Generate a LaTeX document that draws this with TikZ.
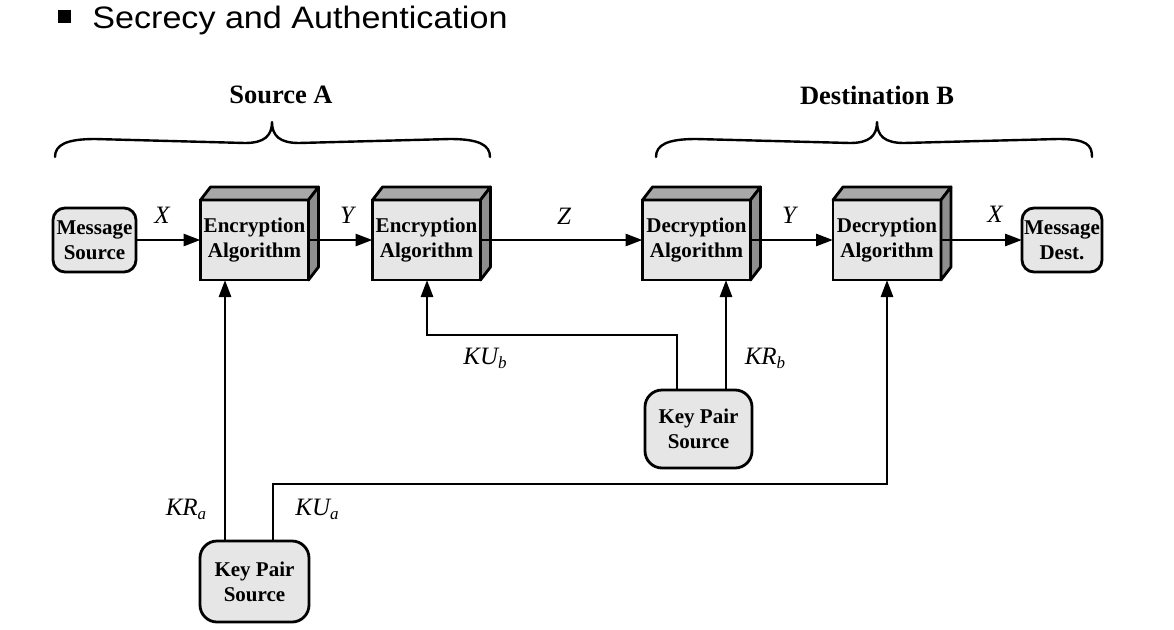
\documentclass[tikz,border=0pt]{standalone}
\usepackage{fontspec}
\setmainfont{Liberation Serif}
\newfontfamily\titlefont[FakeStretch=1.1]{Liberation Sans}
\usetikzlibrary{arrows.meta,calc}
\definecolor{facegray}{HTML}{E6E6E6}
\definecolor{topgray}{HTML}{A8A8A8}
\definecolor{sidegray}{HTML}{8E8E8E}
\newcommand\sub[1]{\raisebox{-0.35ex}{\fontsize{17}{17}\selectfont #1}}
\begin{document}
\begin{tikzpicture}[x=1pt,y=-1pt,line width=2.8pt,
  arr/.style={-{Triangle[length=17pt,width=12pt]}},
  front/.style={draw,fill=facegray,minimum width=108pt,minimum height=80pt,
    outer sep=0pt,inner sep=0pt,align=center,
    font=\fontsize{21}{25}\selectfont\bfseries},
  rbox/.style={draw,fill=facegray,rounded corners=12pt,outer sep=0pt,inner sep=0pt,
    align=center,font=\fontsize{21}{25}\selectfont\bfseries},
  kbox/.style={rbox,rounded corners=17pt},
  lbl/.style={font=\fontsize{25}{25}\selectfont\itshape,inner sep=0pt},
  hdr/.style={font=\fontsize{26.5}{26.5}\selectfont\bfseries,inner sep=0pt},
  brace/.style={line width=2.4pt,line cap=round,line join=round},
  face/.style={line join=round}]
\useasboundingbox[fill=white] (0,0) rectangle (1174,629);

% title
\fill (58,10) rectangle (71,23);
\node[anchor=base west,inner sep=0pt,font=\titlefont\fontsize{31}{31}\selectfont] (title) at (91,28) {Secrecy and Authentication};

% headers and braces
\node[hdr] (srcA) at (281,95) {Source A};
\node[hdr] (dstB) at (877,95) {Destination B};
\draw[brace] (55,157) .. controls (55,145) and (66,139) .. (95,139) -- (245,143)
  .. controls (264,143) and (272,136) .. (272,122)
  .. controls (272,136) and (280,143) .. (299,143) -- (450,139)
  .. controls (479,139) and (490,145) .. (490,157);
\draw[brace] (656,157) .. controls (656,145) and (667,139) .. (696,139) -- (850,143)
  .. controls (869,143) and (877,136) .. (877,122)
  .. controls (877,136) and (885,143) .. (904,143) -- (1058,139)
  .. controls (1087,139) and (1092,145) .. (1092,157);

% boxes
\node[rbox,minimum width=83pt,minimum height=64pt] (msrc) at (94.5,240) {Message\\Source};
\node[rbox,minimum width=80pt,minimum height=64pt] (mdst) at (1062,240) {Message\\Dest.};
\node[front] (enc1) at (254.5,240) {Encryption\\Algorithm};
\node[front] (enc2) at (426.5,240) {Encryption\\Algorithm};
\node[front] (dec1) at (696.5,240) {Decryption\\Algorithm};
\node[front] (dec2) at (887,240) {Decryption\\Algorithm};
\foreach \n in {enc1,enc2,dec1,dec2}{
  \draw[face,fill=topgray] (\n.north west) -- ++(10,-13) -- ++(108,0) -- (\n.north east) -- cycle;
  \draw[face,fill=sidegray] (\n.north east) -- ++(10,-13) -- ++(0,80) -- (\n.south east) -- cycle;
}
\node[kbox,minimum width=109pt,minimum height=81pt] (kpsA) at (254.5,581.5) {Key Pair\\Source};
\node[kbox,minimum width=107pt,minimum height=78pt] (kpsB) at (698.5,429) {Key Pair\\Source};

% main flow
\draw[arr] (msrc.east) -- (enc1.west);
\draw[arr] (enc1.east) -- (enc2.west);
\draw[arr] (enc2.east) -- (dec1.west);
\draw[arr] (dec1.east) -- (dec2.west);
\draw[arr] (dec2.east) -- (mdst.west);

% key lines
\coordinate (xa1) at (225,0);
\coordinate (xa2) at (273,0);
\coordinate (xb1) at (677,0);
\coordinate (xb2) at (726,0);
\coordinate (xe2) at (427,0);
\coordinate (xd2) at (887,0);
\draw[arr] (kpsA.north -| xa1) -- (enc1.south -| xa1);
\draw[arr] (kpsA.north -| xa2) -- ($(xa2)+(0,484)$) -- ($(xd2)+(0,484)$) -- (dec2.south -| xd2);
\draw[arr] (kpsB.north -| xb1) -- ($(xb1)+(0,335)$) -- ($(xe2)+(0,335)$) -- (enc2.south -| xe2);
\draw[arr] (kpsB.north -| xb2) -- (dec1.south -| xb2);

% labels
\node[lbl] (lx1) at (162,215) {X};
\node[lbl] (ly1) at (347,215) {Y};
\node[lbl] (lz) at (564,216) {Z};
\node[lbl] (ly2) at (789,215) {Y};
\node[lbl] (lx2) at (995,214) {X};
\node[lbl] (lkub) at (485,358) {KU\sub{b}};
\node[lbl] (lkrb) at (765,358) {KR\sub{b}};
\node[lbl] (lkra) at (186,509) {KR\sub{a}};
\node[lbl] (lkua) at (317,509) {KU\sub{a}};
\end{tikzpicture}
\end{document}
